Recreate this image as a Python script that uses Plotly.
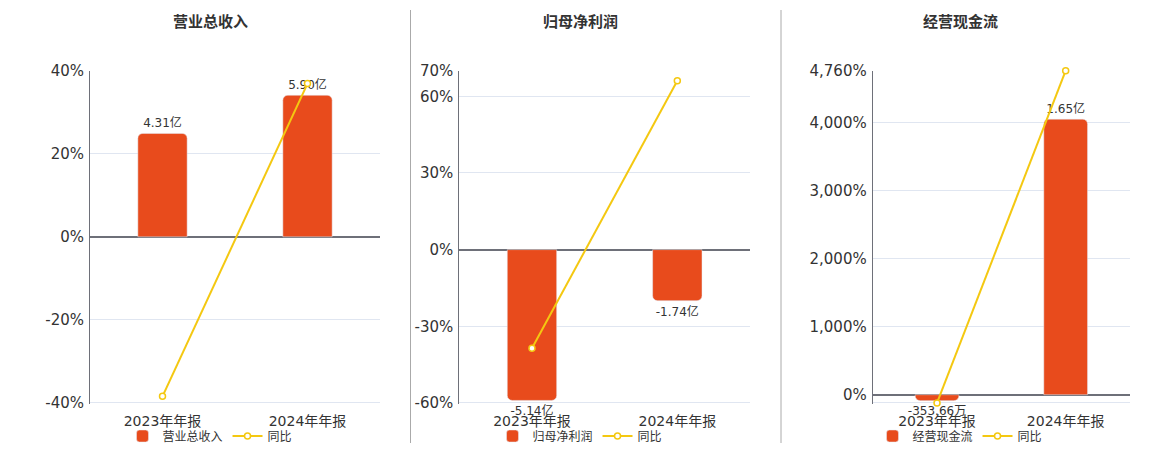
import plotly.graph_objects as go

# ---------------- data ----------------
periods = ["2023年年报", "2024年年报"]

titles = ["营业总收入", "归母净利润", "经营现金流"]

revenue = [4.31, 5.90]            # 亿
revenue_yoy = [-38.4, 36.9]       # %

net_profit = [-5.14, -1.74]       # 亿
net_profit_yoy = [-38.6, 66.1]    # %

cash_flow = [-0.035366, 1.65]     # 亿  (-353.66万, 1.65亿)
cash_flow_yoy = [-121, 4760]      # %

yoy_name = "同比"

# percent axis ticks
ticks_1 = [-40, -20, 0, 20, 40]
ticks_2 = [-60, -30, 0, 30, 60, 70]
ticks_3 = [-121, 0, 1000, 2000, 3000, 4000, 4760]

# ---------------- styling ----------------
BAR_COLOR = "#E84B1C"
LINE_COLOR = "#F4C811"
GRID = "#E0E6F1"
AXIS = "#6E7079"
TXT = "#333333"
FONT = "DejaVu Sans, Noto Sans CJK SC, sans-serif"
W, H = 1160, 450


def fmt_amount(v):
    if abs(v) >= 1:
        return f"{v:.2f}亿"
    return f"{v * 10000:.2f}万"


def fmt_pct(v):
    return f"{v:,}%"


panels = [
    dict(vals=revenue, yoy=revenue_yoy, ticks=ticks_1, prange=[-40, 40],
         bar_frac=34.1 / 80, xdom=[90, 380], center=210, hide_min=False),
    dict(vals=net_profit, yoy=net_profit_yoy, ticks=ticks_2, prange=[-60, 70],
         bar_frac=59.0 / 130, xdom=[459.3, 750], center=580, hide_min=False),
    dict(vals=cash_flow, yoy=cash_flow_yoy, ticks=ticks_3, prange=[-121, 4760],
         bar_frac=4049.0 / 4881, xdom=[872.7, 1130], center=960, hide_min=True),
]

fig = go.Figure()
ydom = [1 - 404.3 / H, 1 - 70.7 / H]

for i, p in enumerate(panels):
    n = i + 1
    xa = "x" if n == 1 else f"x{n}"
    ybar_idx = 2 * n - 1
    ypct_idx = 2 * n
    ybar = "y" if ybar_idx == 1 else f"y{ybar_idx}"
    ypct = f"y{ypct_idx}"
    leg = "legend" if n == 1 else f"legend{n}"

    lo, hi = p["prange"]
    pad = (hi - lo) * 0.004
    rlo, rhi = lo - pad, hi + 1e-4 * (hi - lo)
    # bar axis range so that its zero aligns with the percent axis zero
    ext = max(abs(v) for v in p["vals"])
    span = ext / p["bar_frac"] * (rhi - rlo) / (hi - lo)
    tot = rhi - rlo
    bar_range = [rlo / tot * span, rhi / tot * span]

    fig.add_trace(go.Bar(
        x=periods, y=p["vals"], name=titles[i], xaxis=xa, yaxis=ybar,
        marker=dict(color=BAR_COLOR, cornerradius=5), width=0.34,
        text=[fmt_amount(v) for v in p["vals"]], textposition="outside",
        constraintext="none",
        textfont=dict(size=12, color=TXT, family=FONT), cliponaxis=False,
        legend=leg, hoverinfo="skip",
    ))
    fig.add_trace(go.Scatter(
        x=periods, y=p["yoy"], name=yoy_name, xaxis=xa, yaxis=ypct,
        mode="lines+markers",
        line=dict(color=LINE_COLOR, width=2),
        marker=dict(symbol="circle", size=6, color="white",
                    line=dict(color=LINE_COLOR, width=1.5)),
        cliponaxis=False, legend=leg, hoverinfo="skip",
    ))

    xd = [p["xdom"][0] / W, p["xdom"][1] / W]
    fig.layout[f"xaxis{'' if n == 1 else n}"] = dict(
        domain=xd, anchor=ybar, range=[-0.5, 1.5], type="category",
        showline=False, showgrid=False, zeroline=False, ticks="",
        ticklabelstandoff=7,
        tickfont=dict(size=14, color=TXT, family=FONT), fixedrange=True,
    )
    fig.layout[f"yaxis{'' if ybar_idx == 1 else ybar_idx}"] = dict(
        domain=ydom, anchor=xa, range=bar_range, visible=False, fixedrange=True,
    )
    fig.layout[f"yaxis{ypct_idx}"] = dict(
        domain=ydom, anchor=xa, overlaying=ybar, side="left",
        range=[rlo, rhi], tickvals=p["ticks"],
        ticktext=["" if (p["hide_min"] and v == lo) else fmt_pct(v)
                  for v in p["ticks"]],
        showgrid=True, gridcolor=GRID, gridwidth=1,
        zeroline=True, zerolinecolor=AXIS, zerolinewidth=2,
        showline=True, linecolor=AXIS, linewidth=1,
        ticks="", ticklabelstandoff=2, ticklabeloverflow="allow",
        tickfont=dict(size=15, color=TXT, family=FONT), fixedrange=True,
    )
    fig.layout[leg] = dict(
        orientation="h", x=p["center"] / W, xanchor="center",
        y=1 - 436 / H, yanchor="middle", xref="container", yref="container",
        bgcolor="rgba(0,0,0,0)",
        font=dict(size=12, color=TXT, family=FONT),
        itemwidth=30, traceorder="normal",
    )
    fig.add_annotation(
        x=p["center"] / W, y=1 - 22 / H, xref="paper", yref="paper",
        text=f"<b>{titles[i]}</b>", showarrow=False,
        font=dict(size=15, color=TXT, family=FONT),
        xanchor="center", yanchor="middle",
    )

# separators between panels
for xs in [410.5, 781]:
    fig.add_shape(type="line", xref="paper", yref="paper",
                  x0=xs / W, x1=xs / W, y0=1 - 10 / H, y1=1 - 443 / H,
                  line=dict(color="#AAAAAA", width=1))

fig.update_layout(
    width=W, height=H, margin=dict(l=0, r=0, t=0, b=0, autoexpand=False),
    paper_bgcolor="white", plot_bgcolor="white",
    font=dict(family=FONT, color=TXT), barmode="overlay",
    showlegend=True,
)

fig.write_html("out.html", config={"displayModeBar": False},
               post_script="document.body.style.margin='0';")
